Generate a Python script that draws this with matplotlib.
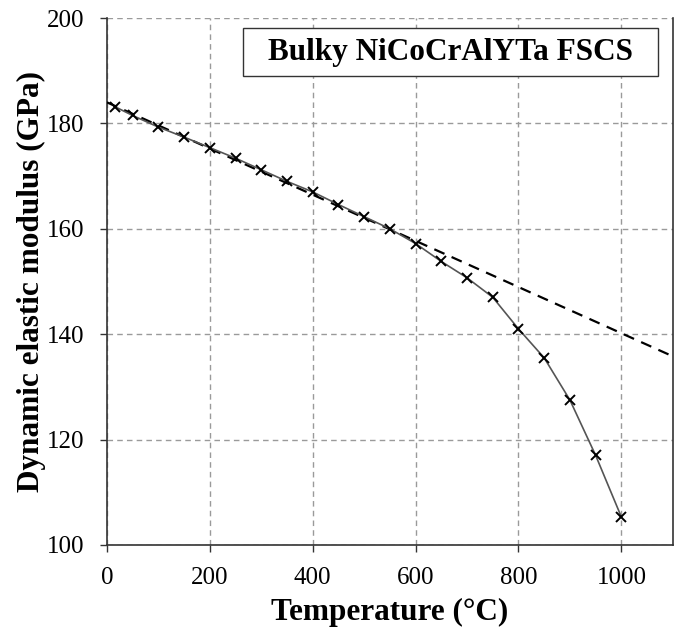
import matplotlib
matplotlib.use("Agg")
import matplotlib.pyplot as plt
from matplotlib.patches import Rectangle

temperature = [15, 50, 100, 150, 200, 250, 300, 350, 400, 450, 500, 550,
               600, 650, 700, 750, 800, 850, 900, 950, 1000]
modulus = [183.2, 181.5, 179.3, 177.4, 175.4, 173.4, 171.2, 169.0, 167.0,
           164.6, 162.3, 160.0, 157.2, 153.8, 150.7, 147.0, 141.0, 135.5,
           127.5, 117.0, 105.3]
linear_x = [0, 1100]
linear_y = [184.0, 135.8]
x_ticks = [0, 200, 400, 600, 800, 1000]
y_ticks = [100, 120, 140, 160, 180, 200]
title_text = "Bulky NiCoCrAlYTa FSCS"

plt.rcParams['font.family'] = ['Liberation Serif', 'DejaVu Serif']

fig = plt.figure(figsize=(6.81, 6.32), dpi=100)
ax = fig.add_axes([0.157, 0.1377, 0.831, 0.8338])

ax.plot(linear_x, linear_y, color='black', linestyle=(0, (5, 3.5)), linewidth=1.6, zorder=3)
ax.plot(temperature, modulus, color='#555555', linewidth=1.2, zorder=4)
ax.plot(temperature, modulus, linestyle='none', marker='x', markersize=7,
        markeredgewidth=1.4, color='black', zorder=5)

ax.set_xlim(0, 1100)
ax.set_ylim(100, 200)
ax.set_xticks(x_ticks)
ax.set_yticks(y_ticks)
ax.grid(True, color='#9a9a9a', linestyle=(0, (4, 3)), linewidth=1.0)
ax.set_axisbelow(True)

for s in ['left', 'bottom', 'right']:
    ax.spines[s].set_color('#333333')
    ax.spines[s].set_linewidth(1.2)
ax.spines['top'].set_visible(False)

ax.tick_params(axis='both', labelsize=18, direction='out', length=5,
               width=1, color='#333333')
ax.tick_params(axis='y', pad=11)
ax.tick_params(axis='x', pad=10.5)

ax.set_xlabel("Temperature (°C)", fontsize=22.5, fontweight='bold', labelpad=7)
ax.set_ylabel("Dynamic elastic modulus (GPa)", fontsize=22.5, fontweight='bold', labelpad=1)

box = Rectangle((0.240, 0.890), 0.733, 0.091, transform=ax.transAxes,
                facecolor='white', edgecolor='#333333', linewidth=1.0, zorder=6)
ax.add_patch(box)
ax.text(0.607, 0.935, title_text, transform=ax.transAxes, fontsize=22.5,
        fontweight='bold', ha='center', va='center', zorder=7)

fig.savefig("out.png", dpi=100)
